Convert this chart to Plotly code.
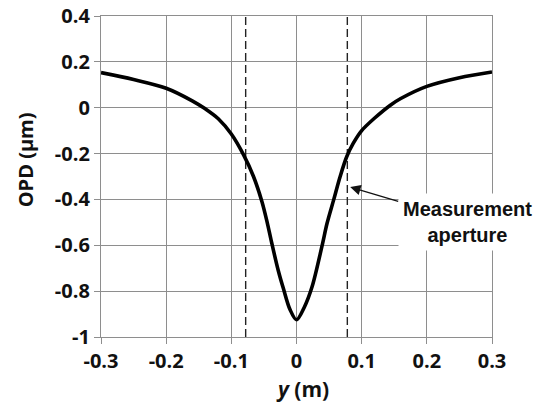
import plotly.graph_objects as go

# Data
y_pos = [-0.30, -0.25, -0.20, -0.16, -0.14, -0.12, -0.10, -0.081, -0.066, -0.053,
         -0.045, -0.038, -0.028, -0.02, -0.01, 0.0, 0.012, 0.024, 0.039, 0.047,
         0.057, 0.067, 0.077, 0.087, 0.10, 0.12, 0.144, 0.16, 0.20, 0.25, 0.30]
opd = [0.153, 0.123, 0.085, 0.030, -0.005, -0.048, -0.115, -0.207, -0.30, -0.41,
       -0.50, -0.59, -0.71, -0.79, -0.88, -0.925, -0.87, -0.78, -0.605, -0.503,
       -0.402, -0.30, -0.214, -0.156, -0.10, -0.045, 0.011, 0.040, 0.093, 0.131, 0.156]
aperture_edges = [-0.078, 0.078]
aperture_y = [-1.0, 0.4]

x_ticks = [-0.3, -0.2, -0.1, 0.0, 0.1, 0.2, 0.3]
x_ticklabels = ["-0.3", "-0.2", "-0.1", "0", "0.1", "0.2", "0.3"]
y_ticks = [0.4, 0.2, 0.0, -0.2, -0.4, -0.6, -0.8, -1.0]
y_ticklabels = ["0.4", "0.2", "0", "-0.2", "-0.4", "-0.6", "-0.8", "-1"]

W, H = 544, 406
# target plot area in page pixels: x 100.7..491.7, y 15.5..337.5
L = 100.7
T = 15.5
R = W - 491.7
B = H - 337.5
pw, ph = W - L - R, H - T - B

tick_font = dict(family="Open Sans", size=20, color="#111111", weight="bold")
grid = "#8e8e8e"

fig = go.Figure()
for xe in aperture_edges:
    fig.add_trace(go.Scatter(x=[xe, xe], y=aperture_y, mode="lines",
                             line=dict(color="#222", width=1.4, dash="8px,4px"),
                             hoverinfo="skip", showlegend=False))
fig.add_trace(go.Scatter(x=y_pos, y=opd, mode="lines",
                         line=dict(color="black", width=3.6, shape="spline", smoothing=0.9),
                         showlegend=False))

axis_common = dict(showgrid=True, gridcolor=grid, gridwidth=1.3,
                   zeroline=False, showline=True, mirror=True,
                   linecolor=grid, linewidth=1.3,
                   ticks="outside", ticklen=6, tickcolor=grid, tickwidth=1.3,
                   tickfont=tick_font, automargin=False, ticklabeloverflow="allow")

fig.update_layout(
    width=W, height=H,
    margin=dict(l=L, r=R, t=T, b=B, autoexpand=False),
    paper_bgcolor="white", plot_bgcolor="white",
    xaxis=dict(range=[-0.3, 0.3], tickvals=x_ticks, ticktext=x_ticklabels, **axis_common),
    yaxis=dict(range=[-1.0, 0.4], tickvals=y_ticks, ticktext=y_ticklabels, **axis_common),
)

def px_to_paper_x(px):
    return (px - L) / pw

def px_to_paper_y(py):
    return (H - B - py) / ph

fig.add_annotation(x=px_to_paper_x(302), y=px_to_paper_y(390), xref="paper", yref="paper",
                   text="<b><i>y</i> (m)</b>", showarrow=False,
                   font=dict(family="Open Sans", size=21, color="#111111"),
                   xanchor="center", yanchor="middle")
fig.add_annotation(x=px_to_paper_x(25), y=px_to_paper_y(160), xref="paper", yref="paper",
                   text="<b>OPD (μm)</b>", showarrow=False, textangle=-90,
                   font=dict(family="Open Sans", size=20, color="#111111"),
                   xanchor="center", yanchor="middle")
fig.add_annotation(x=0.0824, y=-0.346, xref="x", yref="y",
                   text="<b>Measurement<br>aperture</b>",
                   showarrow=True, ax=117, ay=35,
                   arrowhead=2, arrowsize=1.6, arrowwidth=1.3, arrowcolor="#111111",
                   bgcolor="white", borderpad=4,
                   font=dict(family="Liberation Sans", size=20, color="#111111"))

fig.write_html("out.html", config={"displayModeBar": False},
               post_script="document.body.style.margin='0';")
